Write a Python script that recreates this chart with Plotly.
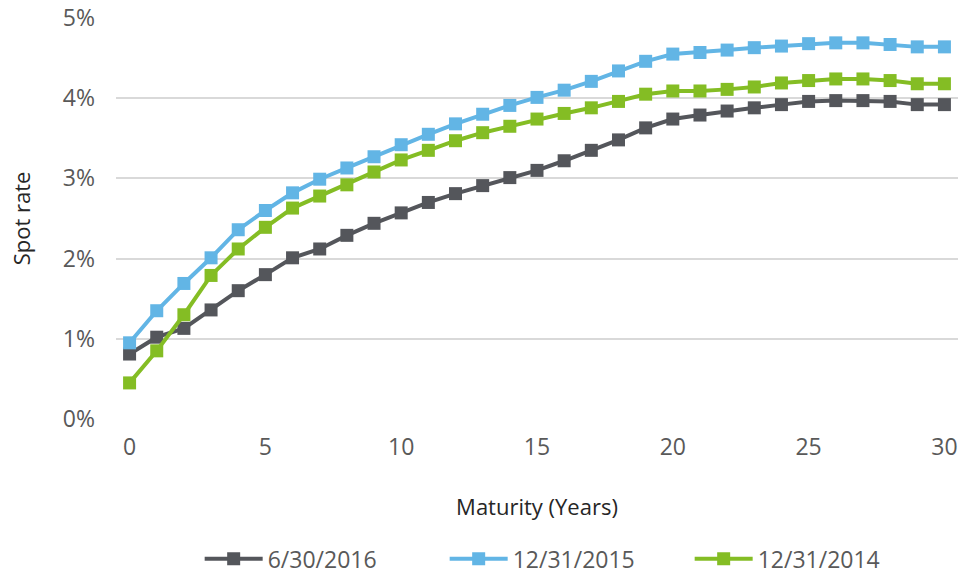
import plotly.graph_objects as go

# Maturity in years (0-30) and spot rates (%) for three curve dates
maturity = list(range(0, 31))

rates_2016_06_30 = [0.81, 1.02, 1.13, 1.36, 1.60, 1.80, 2.01, 2.12, 2.29, 2.44,
                    2.57, 2.70, 2.81, 2.91, 3.01, 3.10, 3.22, 3.35, 3.48, 3.63,
                    3.74, 3.79, 3.84, 3.88, 3.92, 3.96, 3.97, 3.97, 3.96, 3.92, 3.92]

rates_2015_12_31 = [0.95, 1.35, 1.69, 2.01, 2.36, 2.60, 2.82, 2.99, 3.13, 3.27,
                    3.42, 3.55, 3.68, 3.80, 3.91, 4.01, 4.10, 4.21, 4.34, 4.46,
                    4.55, 4.57, 4.60, 4.63, 4.65, 4.68, 4.69, 4.69, 4.67, 4.64, 4.64]

rates_2014_12_31 = [0.45, 0.85, 1.30, 1.79, 2.12, 2.39, 2.63, 2.78, 2.92, 3.08,
                    3.23, 3.35, 3.47, 3.57, 3.65, 3.74, 3.81, 3.88, 3.96, 4.05,
                    4.09, 4.09, 4.11, 4.14, 4.19, 4.22, 4.24, 4.24, 4.22, 4.18, 4.18]

series_names = ["6/30/2016", "12/31/2015", "12/31/2014"]
series_colors = ["#54565b", "#62b5e5", "#84bd24"]
series_values = [rates_2016_06_30, rates_2015_12_31, rates_2014_12_31]

x_ticks = [0, 5, 10, 15, 20, 25, 30]
y_ticks = [0, 1, 2, 3, 4, 5]
y_tick_labels = ["0%", "1%", "2%", "3%", "4%", "5%"]

text_color = "#595959"
title_color = "#262626"
grid_color = "#d9d9d9"

fig = go.Figure()
for name, color, values in zip(series_names, series_colors, series_values):
    fig.add_trace(go.Scatter(
        x=maturity,
        y=values,
        name=name,
        mode="lines+markers",
        line=dict(color=color, width=4),
        marker=dict(symbol="square", size=13, color=color),
    ))

fig.update_layout(
    width=974,
    height=576,
    margin=dict(l=116, r=16, t=18, b=157),
    paper_bgcolor="white",
    plot_bgcolor="white",
    font=dict(family="Open Sans", size=23, color=text_color),
    showlegend=True,
    legend=dict(
        orientation="h",
        xref="container",
        yref="container",
        x=0.205,
        xanchor="left",
        y=0.03,
        yanchor="middle",
        font=dict(size=23, color=text_color),
        entrywidth=172,
        itemwidth=58,
    ),
    xaxis=dict(
        range=[-0.5, 30.5],
        tickvals=x_ticks,
        showgrid=False,
        zeroline=False,
        showline=False,
        ticks="",
        automargin=False,
        ticklabelstandoff=12,
        tickfont=dict(size=23, color=text_color),
        title=dict(text="Maturity (Years)", font=dict(size=22, color=title_color), standoff=38),
    ),
    yaxis=dict(
        range=[0, 5],
        tickvals=y_ticks,
        ticktext=y_tick_labels,
        showgrid=True,
        gridcolor=grid_color,
        gridwidth=1.5,
        zeroline=False,
        showline=False,
        ticks="",
        automargin=False,
        ticklabelstandoff=20,
        tickfont=dict(size=23, color=text_color),
        title=dict(text="Spot rate", font=dict(size=22, color=title_color), standoff=26),
    ),
)

fig.write_html("out.html")
